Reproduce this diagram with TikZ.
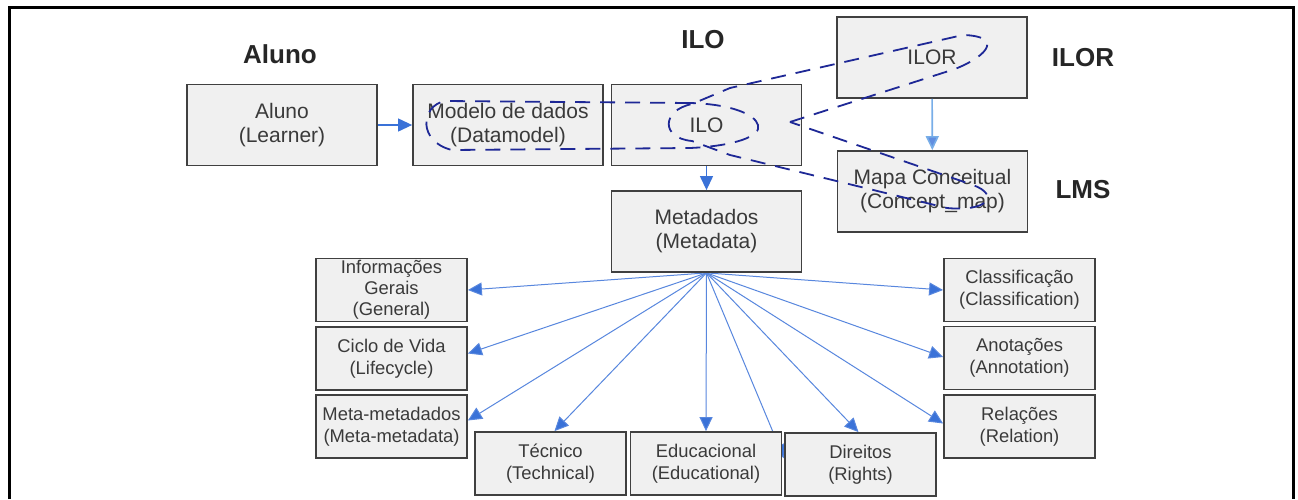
\documentclass[tikz,border=0pt]{standalone}
\usepackage{fontspec}
\setmainfont{Liberation Sans}
\usetikzlibrary{arrows.meta}
\pgfdeclarelayer{back}\pgfdeclarelayer{bg}\pgfdeclarelayer{fg}
\pgfsetlayers{back,bg,main,fg}
\definecolor{boxfill}{HTML}{F0F0F0}
\definecolor{boxline}{HTML}{404040}
\definecolor{txt}{HTML}{3A3A3A}
\definecolor{arr}{HTML}{3A72D8}
\definecolor{arrlight}{HTML}{78AEE8}
\definecolor{lasso}{HTML}{1E2896}
\begin{document}
\begin{tikzpicture}[x=0.5pt,y=-0.5pt,
 bigbox/.style={draw=boxline, fill=boxfill, line width=0.9pt, minimum width=95pt, minimum height=40.5pt, inner sep=0pt, align=center, font=\fontsize{10.5}{12}\selectfont, text=txt},
 smallbox/.style={draw=boxline, fill=boxfill, line width=0.9pt, minimum width=75.5pt, minimum height=31.5pt, inner sep=0pt, align=center, font=\fontsize{9.2}{11}\selectfont, text=txt},
 titlelabel/.style={font=\fontsize{13}{15}\selectfont\bfseries, text=black!85},
 link/.style={draw=arr, line width=0.6pt, -{Triangle[length=7pt,width=6.5pt]}},
 lightlink/.style={draw=arrlight, line width=0.8pt, -{Triangle[length=7pt,width=6.5pt,fill=arr!80]}},
 fan/.style={draw=arr!85, line width=0.5pt, -{Triangle[length=7pt,width=6.5pt,fill=arr]}},
 lassoline/.style={draw=lasso, line width=0.9pt, dash pattern=on 7.5pt off 5pt, line join=round}]
\useasboundingbox (0,0) rectangle (1298,499);
\begin{pgfonlayer}{back}
\fill[white] (0,0) rectangle (1298,499);
\end{pgfonlayer}
\draw[line width=1.5pt] (9,499) -- (9,7) -- (1293,7) -- (1293,499);

% titles
\node[titlelabel] (tAluno) at (280,54) {Aluno};
\node[titlelabel] (tILO) at (703,40) {ILO};
\node[titlelabel] (tILOR) at (1083,58) {ILOR};
\node[titlelabel] (tLMS) at (1083,190) {LMS};

% top boxes
\node[bigbox] (learner) at (282,125) {Aluno\\(Learner)};
\node[bigbox] (datamodel) at (508,125) {Modelo de dados\\(Datamodel)};
\node[bigbox] (ilo) at (706.5,125) {ILO};
\node[bigbox] (ilor) at (932,57.5) {ILOR};
\node[bigbox] (cmap) at (932.5,191.5) {Mapa Conceitual\\(Concept\_map)};
\node[bigbox] (metadata) at (706.5,231.5) {Metadados\\(Metadata)};

% small boxes
\node[smallbox, font=\fontsize{9.2}{10.6}\selectfont] (general) at (391.5,290) {Informações\\Gerais\\(General)};
\node[smallbox] (life) at (391.5,358.5) {Ciclo de Vida\\(Lifecycle)};
\node[smallbox] (metameta) at (391.5,426.5) {Meta-metadados\\(Meta-metadata)};
\node[smallbox] (tech) at (550.5,463.5) {Técnico\\(Technical)};
\node[smallbox] (edu) at (706,463.5) {Educacional\\(Educational)};
\node[smallbox] (rights) at (860.5,464.5) {Direitos\\(Rights)};
\node[smallbox] (class) at (1019.5,290) {Classificação\\(Classification)};
\node[smallbox] (annot) at (1019.5,358) {Anotações\\(Annotation)};
\node[smallbox] (rel) at (1019.5,426.5) {Relações\\(Relation)};

% connectors
\draw[link] (learner) -- (datamodel);
\draw[link] (ilo) -- (metadata);
\draw[lightlink] (ilor) -- (cmap);

\begin{pgfonlayer}{bg}
\coordinate (fo) at (metadata.south);
\draw[fan] (fo) -- (general.east);
\draw[fan] (fo) -- ([yshift=2.5pt]life.east);
\draw[fan] (fo) -- ([yshift=3pt]metameta.east);
\draw[fan] (fo) -- ([xshift=2pt]tech.north);
\draw[fan] (fo) -- (edu.north);
\draw[fan] (fo) -- ([yshift=3pt]rights.west);
\draw[fan] (fo) -- ([xshift=-1pt]rights.north);
\draw[fan] (fo) -- (class.west);
\draw[fan] (fo) -- ([yshift=0.5pt]annot.west);
\draw[fan] (fo) -- ([yshift=1.5pt]rel.west);
\end{pgfonlayer}

% hand-drawn lassos
\begin{pgfonlayer}{fg}
\draw[lassoline] (690,103) -- (445,101) .. controls (420,106) and (418,142) .. (452,150) -- (690,148) .. controls (735,146) and (762,136) .. (758,125) .. controls (755,114) and (730,104) .. (690,103);
\draw[lassoline] (790,122) -- (955,69) .. controls (990,55) and (1002,36) .. (963,35) -- (730,88) -- (692,104) .. controls (662,110) and (660,138) .. (692,141) -- (730,155) -- (947,208) .. controls (988,212) and (1000,195) .. (973,185) -- (790,122);
\end{pgfonlayer}
\end{tikzpicture}
\end{document}
